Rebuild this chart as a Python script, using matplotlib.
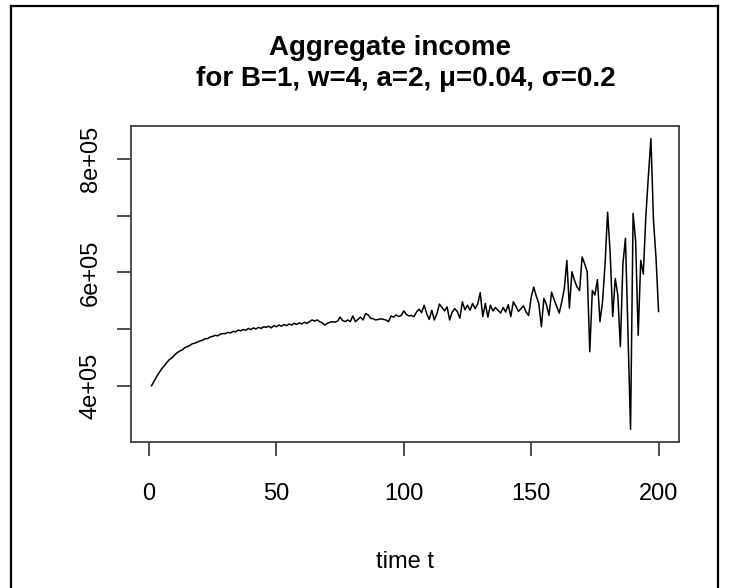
import matplotlib
matplotlib.use("Agg")
import matplotlib.pyplot as plt
from matplotlib.lines import Line2D

plt.rcParams['font.family'] = ['Liberation Sans', 'DejaVu Sans']

# aggregate income, in thousands, for t = 1..200
income_k = [
    400, 408, 416, 423, 430, 435, 441, 446, 449, 454,
    458, 461, 463, 467, 469, 471, 474, 475, 477, 479,
    480, 483, 483, 486, 487, 489, 488, 491, 492, 492,
    494, 493, 496, 495, 498, 497, 499, 498, 501, 499,
    502, 500, 503, 501, 504, 503, 505, 502, 506, 504,
    507, 505, 508, 506, 509, 507, 510, 508, 511, 509,
    512, 510, 513, 516, 514, 516, 513, 511, 507, 510,
    512, 513, 512, 514, 521, 515, 513, 516, 513, 523,
    513, 517, 521, 516, 527, 525, 519, 518, 516, 517,
    518, 517, 516, 513, 523, 521, 525, 522, 524, 532,
    526, 523, 524, 522, 530, 535, 529, 542, 527, 517,
    533, 516, 527, 544, 538, 532, 539, 516, 530, 536,
    531, 519, 548, 534, 542, 533, 545, 536, 544, 564,
    522, 545, 521, 542, 532, 538, 533, 528, 538, 530,
    543, 522, 548, 540, 531, 536, 541, 530, 524, 556,
    574, 558, 545, 504, 554, 543, 524, 565, 552, 540,
    528, 548, 571, 621, 537, 601, 586, 574, 568, 627,
    615, 601, 460, 568, 560, 587, 513, 548, 615, 706,
    634, 522, 589, 560, 469, 615, 660, 492, 323, 704,
    655, 489, 621, 597, 698, 770, 836, 692, 625, 531,
]
t = list(range(1, len(income_k) + 1))
income = [v * 1000 for v in income_k]

xticks = [0, 50, 100, 150, 200]
yticks = [400000, 500000, 600000, 700000, 800000]
ytick_labels = ["4e+05", "", "6e+05", "", "8e+05"]

fig = plt.figure(figsize=(7.3, 5.88), dpi=100)
ax = fig.add_axes([131/730, 1-442/588, (678.7-131)/730, (442-125.7)/588])

ax.plot(t, income, color='black', lw=1.1)

ax.set_xlim(-7.06, 207.9)
ax.set_ylim(300700, 858700)
ax.set_xticks(xticks)
ax.set_xticklabels([str(x) for x in xticks])
ax.set_yticks(yticks)
ax.set_yticklabels(ytick_labels, rotation=90, va='center')

for s in ax.spines.values():
    s.set_color('#404040')
    s.set_linewidth(1.3)
ax.tick_params(axis='both', colors='#404040', labelcolor='black',
               length=10.4, width=1.3, labelsize=17)
ax.tick_params(axis='x', pad=19)
ax.tick_params(axis='y', pad=10.5)

fig.text(390/730, 1-48/588, "Aggregate income", ha='center', va='center',
         fontsize=20, fontweight='bold')
fig.text(406/730, 1-79/588, "for B=1, w=4, a=2, \u03bc=0.04, \u03c3=0.2",
         ha='center', va='center', fontsize=20, fontweight='bold')
fig.text(405/730, 1-562/588, "time t", ha='center', va='center', fontsize=17)

# outer frame of the screenshot
for xs, ys in [([11/730, 11/730], [0, 1-5.7/588]),
               ([11/730, 718/730], [1-5.7/588, 1-5.7/588]),
               ([718/730, 718/730], [0, 1-5.7/588])]:
    fig.add_artist(Line2D(xs, ys, color='black', lw=1.6))

fig.savefig("out.png", dpi=100)
